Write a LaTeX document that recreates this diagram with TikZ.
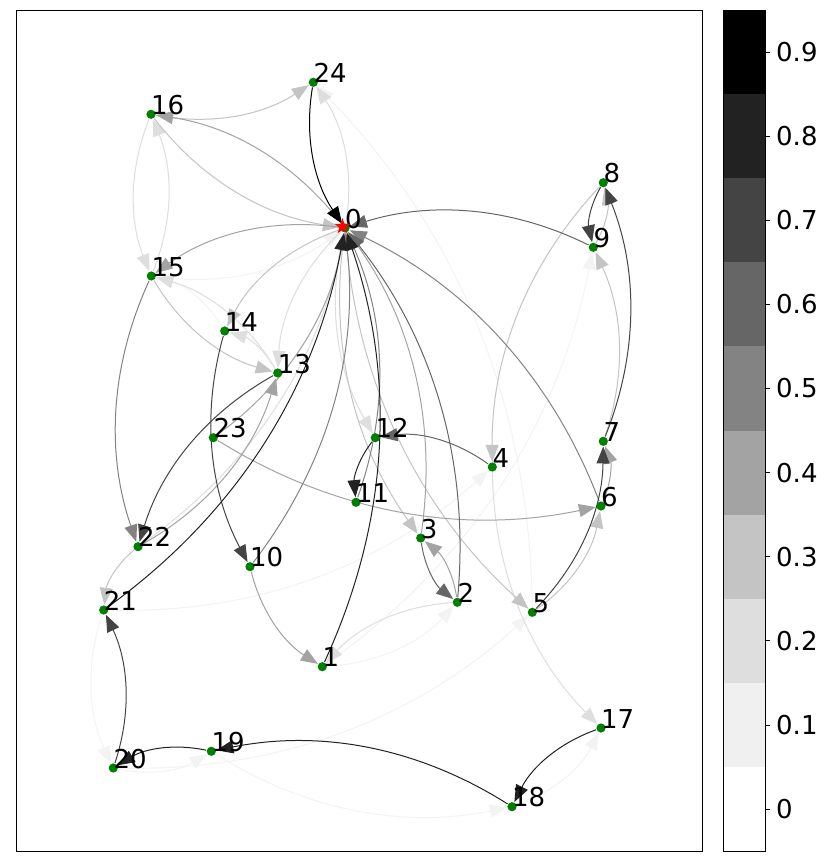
\documentclass[tikz,border=0pt]{standalone}
\usepackage{fontspec}
\setmainfont{DejaVu Sans}
\usetikzlibrary{arrows.meta,shapes.geometric}
\definecolor{c1}{HTML}{F3F3F3}
\definecolor{c2}{HTML}{DEDEDE}
\definecolor{c3}{HTML}{C4C4C4}
\definecolor{c4}{HTML}{A3A3A3}
\definecolor{c5}{HTML}{838383}
\definecolor{c6}{HTML}{666666}
\definecolor{c7}{HTML}{444444}
\definecolor{c8}{HTML}{222222}
\definecolor{c9}{HTML}{000000}
\definecolor{cb1}{HTML}{F0F0F0}
\definecolor{mplgreen}{HTML}{008000}
\newcommand{\myedge}[3]{\draw[edge,draw=#3] (n#1) to (n#2);}
\begin{document}
\begin{tikzpicture}[x=1pt,y=1pt,
  vtx/.style={circle,minimum size=10pt,inner sep=0pt,draw=none},
  dot/.style={fill=mplgreen},
  lbl/.style={anchor=base west,inner sep=0pt,font=\fontsize{26}{30}\selectfont},
  tick/.style={anchor=west,inner sep=0pt,font=\fontsize{26}{30}\selectfont},
  edge/.style={line width=1pt,bend right=21.8,looseness=0.917,-{Triangle[length=17pt,width=13pt]}}]
\useasboundingbox (0,0) rectangle (830,-867);
\fill[white] (0,0) rectangle (830,-867);
% vertices
\node[vtx] (n0) at (345,-228) {};
\node[vtx] (n1) at (322.3,-666.7) {};
\node[vtx] (n2) at (457.3,-602.3) {};
\node[vtx] (n3) at (420.7,-538) {};
\node[vtx] (n4) at (492.3,-467) {};
\node[vtx] (n5) at (532.3,-612.3) {};
\node[vtx] (n6) at (601,-506) {};
\node[vtx] (n7) at (603.3,-441.3) {};
\node[vtx] (n8) at (603.3,-182.7) {};
\node[vtx] (n9) at (593.3,-247.3) {};
\node[vtx] (n10) at (250,-566.7) {};
\node[vtx] (n11) at (356,-502.3) {};
\node[vtx] (n12) at (375.3,-437.7) {};
\node[vtx] (n13) at (277.7,-373) {};
\node[vtx] (n14) at (224.7,-331) {};
\node[vtx] (n15) at (151.3,-276) {};
\node[vtx] (n16) at (151,-114.3) {};
\node[vtx] (n17) at (601,-728) {};
\node[vtx] (n18) at (512,-806.7) {};
\node[vtx] (n19) at (211.3,-751.3) {};
\node[vtx] (n20) at (113.3,-768) {};
\node[vtx] (n21) at (103.7,-610) {};
\node[vtx] (n22) at (138,-546.7) {};
\node[vtx] (n23) at (213.3,-437.7) {};
\node[vtx] (n24) at (313.3,-82.3) {};
% edges, light to dark
\myedge{5}{24}{c1}\myedge{14}{15}{c1}\myedge{21}{4}{c1}\myedge{1}{2}{c1}
\myedge{20}{5}{c1}\myedge{20}{19}{c1}\myedge{19}{18}{c1}\myedge{18}{17}{c1}
\myedge{21}{20}{c1}\myedge{15}{0}{c1}\myedge{1}{9}{c1}
\myedge{16}{15}{c2}\myedge{15}{16}{c2}\myedge{4}{17}{c2}\myedge{0}{12}{c2}
\myedge{0}{24}{c2}\myedge{0}{13}{c2}\myedge{13}{15}{c2}\myedge{2}{1}{c2}
\myedge{22}{0}{c2}\myedge{13}{14}{c2}
\myedge{9}{8}{c3}\myedge{7}{9}{c3}\myedge{8}{4}{c3}\myedge{5}{6}{c3}
\myedge{15}{13}{c3}\myedge{22}{21}{c3}\myedge{0}{5}{c3}\myedge{0}{3}{c3}
\myedge{16}{0}{c3}\myedge{16}{24}{c3}\myedge{0}{14}{c3}
\myedge{2}{3}{c4}\myedge{6}{7}{c4}\myedge{23}{6}{c4}\myedge{0}{15}{c4}
\myedge{22}{13}{c4}\myedge{10}{1}{c4}\myedge{0}{16}{c4}\myedge{23}{0}{c4}
\myedge{3}{0}{c4}
\myedge{15}{22}{c5}\myedge{10}{0}{c5}\myedge{6}{0}{c5}\myedge{11}{0}{c5}
\myedge{9}{0}{c6}\myedge{4}{12}{c6}\myedge{3}{2}{c6}\myedge{2}{0}{c6}
\myedge{8}{9}{c7}\myedge{7}{8}{c7}\myedge{14}{10}{c7}\myedge{5}{7}{c7}
\myedge{13}{22}{c7}\myedge{20}{21}{c7}
\myedge{12}{11}{c8}\myedge{1}{0}{c8}\myedge{21}{0}{c8}\myedge{19}{20}{c8}
\myedge{18}{19}{c8}\myedge{17}{18}{c8}
\myedge{24}{0}{c9}
% dots and labels
\foreach \i in {0,...,24} {
  \fill[dot] (n\i.center) circle (4.6pt);
  \node[lbl] (l\i) at (n\i.center) {\i};
}
\node[star,star points=5,star point ratio=2.6,fill=red,draw=none,minimum size=17pt,inner sep=0pt] (st0) at (342.5,-226.5) {};
% axes frame
\draw[line width=0.9pt] (16,-10) rectangle (702,-851);
% colorbar
\foreach \k/\c in {0/white,1/cb1,2/c2,3/c3,4/c4,5/c5,6/c6,7/c7,8/c8,9/c9} {
  \fill[\c] (723,{-851+84.1*\k}) rectangle (765,{-851+84.1*(\k+1)});
}
\draw[line width=0.9pt] (723,-10) rectangle (765,-851);
\foreach \k/\t in {0/0,1/0.1,2/0.2,3/0.3,4/0.4,5/0.5,6/0.6,7/0.7,8/0.8,9/0.9} {
  \draw[line width=0.8pt] (765,{-809+84.1*\k}) -- (770,{-809+84.1*\k});
  \node[tick] (t\k) at (776,{-809+84.1*\k}) {\t};
}
\end{tikzpicture}
\end{document}
